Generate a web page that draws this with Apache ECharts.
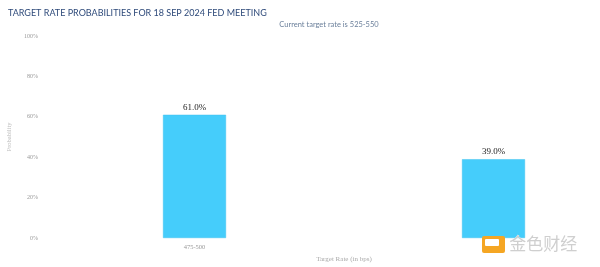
<!DOCTYPE html>
<html><head><meta charset="utf-8">
<script src="https://cdn.jsdelivr.net/npm/echarts@6/dist/echarts.min.js"></script>
<style>html,body{margin:0;padding:0;background:#fff}#c{width:600px;height:267px}</style>
</head><body><div id="c"></div>
<script>
var categories = ['475-500', '500-525'];
var probabilities = [61.0, 39.0];
var yTicks = [0, 20, 40, 60, 80, 100];

var chart = echarts.init(document.getElementById('c'));
chart.setOption({
  animation: false,
  title: [{
    text: 'TARGET RATE PROBABILITIES FOR 18 SEP 2024 FED MEETING',
    left: 3, top: 4,
    textStyle: {fontFamily: 'Lato', fontSize: 9, fontWeight: 'normal', color: '#2e4a7a'}
  }, {
    text: 'Current target rate is 525-550',
    left: 324, top: 16, textAlign: 'center',
    textStyle: {fontFamily: 'Lato', fontSize: 7.5, fontWeight: 'normal', color: '#6a7f9a'}
  }],
  grid: {left: 45, width: 598, top: 36, bottom: 29, outerBoundsMode: 'none', containLabel: false},
  xAxis: {
    type: 'category', data: categories,
    name: 'Target Rate (in bps)', nameLocation: 'middle', nameGap: 15,
    nameTextStyle: {fontFamily: 'Liberation Serif', fontSize: 7, color: '#aaa'},
    axisLine: {show: false},
    axisTick: {show: false},
    axisLabel: {fontFamily: 'Liberation Serif', fontSize: 6.5, color: '#999', margin: 6}
  },
  yAxis: {
    type: 'value', min: 0, max: 100, interval: 20,
    name: 'Probability', nameLocation: 'middle', nameGap: 28,
    nameTextStyle: {fontFamily: 'Liberation Serif', fontSize: 6.5, color: '#bbb'},
    axisLine: {show: false}, axisTick: {show: false},
    splitLine: {show: false},
    axisLabel: {fontFamily: 'Liberation Serif', fontSize: 6, color: '#999', margin: 7,
      formatter: function (v) { return yTicks.indexOf(v) >= 0 ? v + '%' : ''; }}
  },
  series: [{
    type: 'bar', data: probabilities, barWidth: 63,
    itemStyle: {color: '#45cdfb', borderColor: '#3fc0ee', borderWidth: 0.5},
    label: {show: true, position: 'top', distance: 3,
      fontFamily: 'Liberation Serif', fontSize: 9, color: '#222',
      formatter: function (p) { return p.value.toFixed(1) + '%'; }}
  }],
  graphic: [{
    type: 'text', left: 509, top: 235, z: 100,
    style: {text: '金色财经', fontFamily: 'Noto Sans CJK SC', fontSize: 17, fill: '#cfcfcf', stroke: '#fff', lineWidth: 0.5}
  }, {
    type: 'rect', z: 100, shape: {x: 482, y: 236, width: 23, height: 17, r: 2},
    style: {fill: '#f5a623'}
  }, {
    type: 'rect', z: 101, shape: {x: 485, y: 239, width: 14, height: 7, r: 1},
    style: {fill: '#ffffff'}
  }]
});
</script></body></html>
